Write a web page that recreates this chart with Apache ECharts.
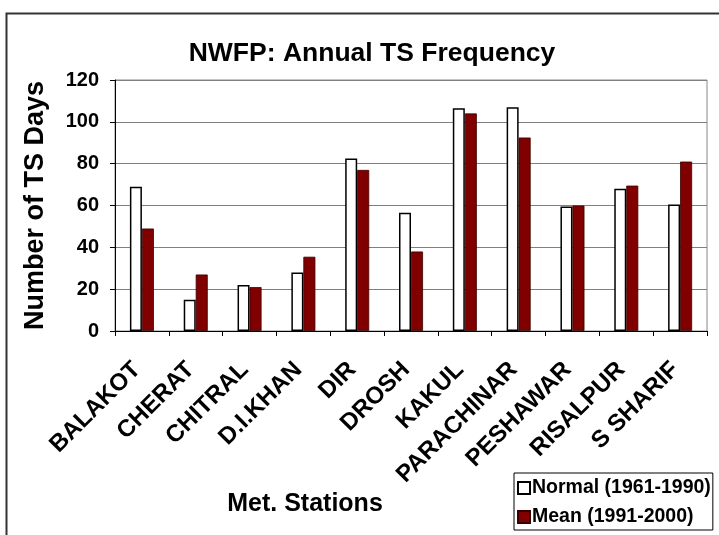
<!DOCTYPE html>
<html>
<head>
<meta charset="utf-8">
<script src="https://cdn.jsdelivr.net/npm/echarts@6/dist/echarts.min.js"></script>
<style>
  html, body { margin: 0; padding: 0; background: #fff; }
  #chart { width: 719px; height: 535px; }
</style>
</head>
<body>
<div id="chart"></div>
<script>
var stations = ['BALAKOT', 'CHERAT', 'CHITRAL', 'D.I.KHAN', 'DIR', 'DROSH', 'KAKUL', 'PARACHINAR', 'PESHAWAR', 'RISALPUR', 'S SHARIF']
var normal = [69, 15, 22, 28, 82.5, 56.5, 106.5, 107, 59.5, 68, 60.5]
var mean = [49, 27, 21, 35.5, 77, 38, 104, 92.5, 60, 69.5, 81]

var font = 'Arial, "Liberation Sans", sans-serif'

var chart = echarts.init(document.getElementById('chart'), null, {renderer: 'canvas'})
chart.setOption({
  animation: false,
  textStyle: {fontFamily: font},
  graphic: [{
    type: 'rect',
    shape: {x: 6.5, y: 13.5, width: 740, height: 560},
    style: {fill: 'none', stroke: '#333', lineWidth: 2}
  }],
  title: {
    text: 'NWFP: Annual TS Frequency',
    left: 367, top: 35, textAlign: 'center',
    textStyle: {fontSize: 26.5, fontWeight: 'bold', color: '#000', fontFamily: font}
  },
  grid: {left: 115, top: 80, right: 12, bottom: 204, show: true, borderColor: '#888', borderWidth: 1},
  legend: {
    orient: 'vertical',
    left: 514, top: 473,
    padding: [5, 2, 3, 3],
    itemGap: 9,
    itemWidth: 12, itemHeight: 12,
    borderColor: '#000', borderWidth: 1,
    icon: 'rect',
    textStyle: {fontSize: 19.5, lineHeight: 20, fontWeight: 'bold', color: '#000', fontFamily: font, padding: [0, 0, 0, -3]},
    data: ['Normal (1961-1990)', 'Mean (1991-2000)']
  },
  xAxis: {
    type: 'category',
    data: stations,
    name: 'Met. Stations',
    nameLocation: 'middle',
    nameGap: 161,
    nameTextStyle: {fontSize: 25, fontWeight: 'bold', color: '#000', padding: [0, 0, 0, -212]},
    axisLine: {lineStyle: {color: '#000', width: 1}},
    axisTick: {show: true, length: 5, lineStyle: {color: '#000'}},
    axisLabel: {rotate: 45, fontSize: 24, fontWeight: 'bold', color: '#000', margin: 30, padding: [0, 7, 0, 0], interval: 0}
  },
  yAxis: {
    type: 'value',
    min: 0, max: 120, interval: 20,
    name: 'Number of TS Days',
    nameLocation: 'middle',
    nameGap: 66,
    nameTextStyle: {fontSize: 27, fontWeight: 'bold', color: '#000'},
    axisLine: {show: true, lineStyle: {color: '#000', width: 1}},
    axisTick: {show: true, length: 5, lineStyle: {color: '#000'}},
    axisLabel: {fontSize: 20, fontWeight: 'bold', color: '#000', margin: 16},
    splitLine: {lineStyle: {color: '#808080', width: 1}}
  },
  series: [{
    name: 'Normal (1961-1990)',
    type: 'bar',
    data: normal,
    barWidth: 12,
    barGap: '0%',
    itemStyle: {color: '#fff', borderColor: '#000', borderWidth: 1.5}
  }, {
    name: 'Mean (1991-2000)',
    type: 'bar',
    data: mean,
    barWidth: 12,
    itemStyle: {color: '#800000', borderColor: '#3a0000', borderWidth: 0.8}
  }]
})
</script>
</body>
</html>
